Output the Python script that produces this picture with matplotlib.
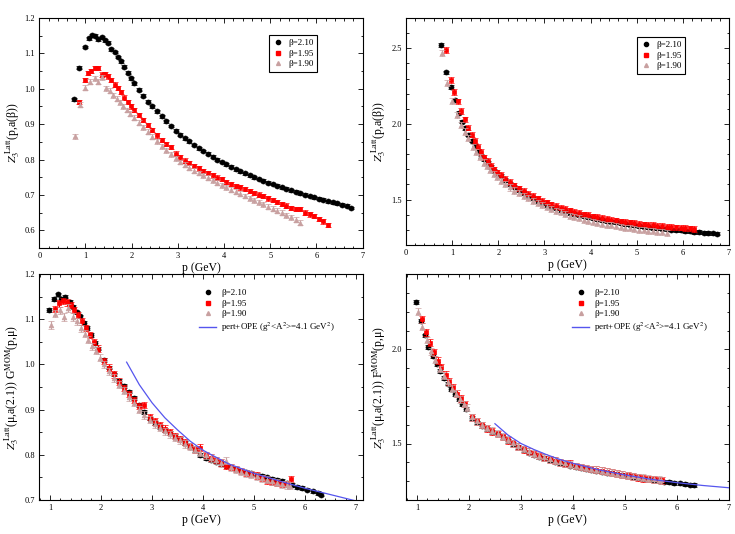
import matplotlib
matplotlib.use("Agg")
import matplotlib.pyplot as plt
from matplotlib.lines import Line2D
from matplotlib.ticker import MultipleLocator

plt.rcParams['font.family'] = ['Liberation Serif', 'DejaVu Serif']
plt.rcParams['mathtext.fontset'] = 'stix'

# ---------------- data ----------------
beta_labels = ["β=2.10", "β=1.95", "β=1.90"]
fit_label = r"pert+OPE (g$^2$<A$^2$>=4.1 GeV$^2$)"

# momenta (GeV) for the upper panels
p_top_210 = [0.75, 0.87, 0.98, 1.07, 1.14, 1.21, 1.28, 1.35, 1.42, 1.49, 1.56, 1.63, 1.70, 1.77, 1.84, 1.91, 1.98,
             2.05, 2.15, 2.25, 2.35, 2.45, 2.55, 2.65, 2.75, 2.85, 2.95, 3.05, 3.15, 3.25, 3.35, 3.45, 3.55,
             3.65, 3.75, 3.85, 3.95, 4.05, 4.15, 4.25, 4.35, 4.45, 4.55, 4.65, 4.75, 4.85, 4.95, 5.05, 5.15,
             5.25, 5.35, 5.45, 5.55, 5.65, 5.75, 5.85, 5.95, 6.05, 6.15, 6.25, 6.35, 6.45, 6.55, 6.65, 6.75]
p_top_195 = [0.87, 0.98, 1.05, 1.12, 1.20, 1.27, 1.35, 1.42, 1.49, 1.56, 1.63, 1.70, 1.77, 1.84, 1.91, 1.98,
             2.05, 2.15, 2.25, 2.35, 2.45, 2.55, 2.65, 2.75, 2.85, 2.95, 3.05, 3.15, 3.25, 3.35, 3.45, 3.55,
             3.65, 3.75, 3.85, 3.95, 4.05, 4.15, 4.25, 4.35, 4.45, 4.55, 4.65, 4.75, 4.85, 4.95, 5.05, 5.15,
             5.25, 5.35, 5.45, 5.55, 5.65, 5.75, 5.85, 5.95, 6.05, 6.15, 6.25]
p_top_190 = [0.78, 0.88, 1.00, 1.10, 1.20, 1.27, 1.35, 1.45, 1.52, 1.60, 1.68, 1.75, 1.82, 1.90, 1.97,
             2.05, 2.15, 2.25, 2.35, 2.45, 2.55, 2.65, 2.75, 2.85, 2.95, 3.05, 3.15, 3.25, 3.35, 3.45, 3.55,
             3.65, 3.75, 3.85, 3.95, 4.05, 4.15, 4.25, 4.35, 4.45, 4.55, 4.65, 4.75, 4.85, 4.95, 5.05, 5.15,
             5.25, 5.35, 5.45, 5.55, 5.65]

# Z3^Latt(p, a(beta))  (top-left)
z_tl_210 = [0.970, 1.060, 1.118, 1.143, 1.152, 1.150, 1.140, 1.146, 1.137, 1.130, 1.112, 1.104, 1.090, 1.078, 1.062, 1.045, 1.030,
            1.015, 0.997, 0.980, 0.964, 0.950, 0.936, 0.922, 0.908, 0.895, 0.882, 0.870, 0.860, 0.851, 0.841, 0.832, 0.824,
            0.816, 0.808, 0.800, 0.793, 0.786, 0.780, 0.773, 0.767, 0.761, 0.756, 0.750, 0.745, 0.740, 0.735, 0.731, 0.726,
            0.722, 0.717, 0.713, 0.709, 0.705, 0.701, 0.697, 0.693, 0.689, 0.686, 0.682, 0.679, 0.676, 0.672, 0.669, 0.663]
z_tl_195 = [0.962, 1.025, 1.045, 1.050, 1.058, 1.058, 1.040, 1.042, 1.035, 1.025, 1.012, 1.003, 0.990, 0.975, 0.962, 0.950,
            0.940, 0.926, 0.912, 0.898, 0.884, 0.868, 0.855, 0.843, 0.836, 0.817, 0.806, 0.797, 0.790, 0.782, 0.775, 0.768,
            0.762, 0.755, 0.749, 0.744, 0.736, 0.731, 0.726, 0.721, 0.716, 0.711, 0.706, 0.701, 0.696, 0.690, 0.685, 0.680,
            0.675, 0.670, 0.664, 0.660, 0.661, 0.650, 0.645, 0.640, 0.633, 0.625, 0.616]
z_tl_190 = [0.866, 0.955, 1.003, 1.020, 1.030, 1.020, 1.032, 1.002, 0.995, 0.982, 0.972, 0.962, 0.950, 0.940, 0.930,
            0.918, 0.904, 0.891, 0.878, 0.865, 0.852, 0.838, 0.826, 0.815, 0.803, 0.793, 0.785, 0.777, 0.769, 0.762, 0.755,
            0.748, 0.741, 0.734, 0.727, 0.721, 0.715, 0.709, 0.703, 0.697, 0.691, 0.685, 0.679, 0.673, 0.667, 0.661, 0.655,
            0.649, 0.643, 0.637, 0.630, 0.622]

# Z3^Latt(p, a(beta)) renormalised (top-right)
z_tr_210 = [2.52, 2.34, 2.245, 2.155, 2.075, 2.015, 1.975, 1.930, 1.890, 1.855, 1.820, 1.790, 1.765, 1.740, 1.715, 1.690, 1.670,
            1.655, 1.630, 1.605, 1.583, 1.562, 1.543, 1.525, 1.508, 1.492, 1.478, 1.466, 1.454, 1.443, 1.432, 1.422, 1.413,
            1.405, 1.398, 1.391, 1.385, 1.378, 1.372, 1.366, 1.360, 1.355, 1.350, 1.345, 1.340, 1.335, 1.330, 1.326, 1.322,
            1.318, 1.314, 1.311, 1.308, 1.305, 1.302, 1.299, 1.296, 1.293, 1.290, 1.287, 1.284, 1.282, 1.279, 1.277, 1.275]
z_tr_195 = [2.49, 2.29, 2.21, 2.15, 2.085, 2.03, 1.975, 1.930, 1.890, 1.850, 1.815, 1.780, 1.755, 1.725, 1.700, 1.680,
            1.662, 1.638, 1.615, 1.594, 1.575, 1.557, 1.540, 1.524, 1.508, 1.494, 1.482, 1.469, 1.458, 1.447, 1.437, 1.428,
            1.419, 1.411, 1.403, 1.400, 1.390, 1.384, 1.378, 1.372, 1.367, 1.362, 1.357, 1.353, 1.349, 1.345, 1.341, 1.337,
            1.334, 1.331, 1.328, 1.325, 1.322, 1.319, 1.317, 1.315, 1.312, 1.310, 1.307]
z_tr_190 = [2.47, 2.27, 2.15, 2.06, 1.99, 1.95, 1.905, 1.850, 1.815, 1.780, 1.745, 1.720, 1.695, 1.670, 1.650,
            1.625, 1.602, 1.580, 1.560, 1.541, 1.524, 1.508, 1.493, 1.479, 1.465, 1.451, 1.438, 1.426, 1.415, 1.404, 1.394,
            1.385, 1.376, 1.368, 1.361, 1.354, 1.347, 1.341, 1.335, 1.330, 1.325, 1.320, 1.315, 1.310, 1.306, 1.302, 1.298,
            1.294, 1.290, 1.287, 1.284, 1.281]

# momenta (GeV) for the lower panels
p_bot_210 = [0.98, 1.07, 1.15, 1.22, 1.30, 1.38, 1.45, 1.52, 1.59, 1.66, 1.73, 1.80, 1.87, 1.94,
             2.05, 2.15, 2.25, 2.35, 2.45, 2.55, 2.65, 2.75, 2.85, 2.95, 3.05, 3.15, 3.25, 3.35, 3.45, 3.55,
             3.65, 3.75, 3.85, 3.95, 4.05, 4.15, 4.25, 4.35, 4.45, 4.55, 4.65, 4.75, 4.85, 4.95, 5.05, 5.15,
             5.25, 5.35, 5.45, 5.55, 5.65, 5.75, 5.85, 5.95, 6.05, 6.15, 6.25, 6.32]
p_bot_195 = [1.10, 1.18, 1.25, 1.33, 1.40, 1.47, 1.55, 1.62, 1.70, 1.78, 1.85, 1.93,
             2.05, 2.15, 2.25, 2.35, 2.45, 2.55, 2.65, 2.75, 2.85, 2.95, 3.05, 3.15, 3.25, 3.35, 3.45, 3.55,
             3.65, 3.75, 3.85, 3.95, 4.05, 4.15, 4.25, 4.35, 4.45, 4.55, 4.65, 4.75, 4.85, 4.95, 5.05, 5.15,
             5.25, 5.35, 5.45, 5.55, 5.65, 5.72]
p_bot_190 = [1.02, 1.10, 1.20, 1.28, 1.35, 1.45, 1.52, 1.60, 1.68, 1.75, 1.83, 1.90, 1.97,
             2.05, 2.15, 2.25, 2.35, 2.45, 2.55, 2.65, 2.75, 2.85, 2.95, 3.05, 3.15, 3.25, 3.35, 3.45, 3.55,
             3.65, 3.75, 3.85, 3.95, 4.05, 4.15, 4.25, 4.35, 4.45, 4.55, 4.65, 4.75, 4.85, 4.95, 5.05, 5.15,
             5.25, 5.35, 5.45, 5.55, 5.65, 5.70]

# Z3 G^MOM (bottom-left)
g_bl_210 = [1.120, 1.145, 1.155, 1.145, 1.150, 1.138, 1.128, 1.115, 1.106, 1.092, 1.080, 1.065, 1.048, 1.035,
            1.010, 0.993, 0.978, 0.963, 0.952, 0.940, 0.925, 0.910, 0.895, 0.880, 0.870, 0.862, 0.855, 0.848, 0.842, 0.835,
            0.826, 0.818, 0.810, 0.800, 0.792, 0.789, 0.785, 0.780, 0.776, 0.772, 0.768, 0.765, 0.762, 0.759, 0.756, 0.753,
            0.750, 0.747, 0.745, 0.742, 0.737, 0.733, 0.729, 0.726, 0.723, 0.719, 0.715, 0.712]
g_bl_195 = [1.122, 1.135, 1.140, 1.137, 1.132, 1.120, 1.110, 1.095, 1.080, 1.065, 1.050, 1.035,
            1.008, 0.993, 0.978, 0.962, 0.948, 0.935, 0.921, 0.908, 0.910, 0.884, 0.874, 0.866, 0.858, 0.850, 0.842, 0.835,
            0.828, 0.820, 0.812, 0.816, 0.800, 0.794, 0.789, 0.783, 0.775, 0.773, 0.768, 0.764, 0.760, 0.757, 0.754, 0.748,
            0.743, 0.740, 0.737, 0.735, 0.736, 0.746]
g_bl_190 = [1.087, 1.112, 1.120, 1.105, 1.125, 1.105, 1.095, 1.080, 1.068, 1.055, 1.040, 1.030, 1.015,
            1.000, 0.985, 0.970, 0.955, 0.942, 0.928, 0.915, 0.900, 0.888, 0.878, 0.868, 0.860, 0.852, 0.845, 0.838, 0.832,
            0.824, 0.818, 0.811, 0.805, 0.799, 0.793, 0.788, 0.782, 0.787, 0.772, 0.767, 0.763, 0.759, 0.756, 0.752, 0.748,
            0.745, 0.741, 0.738, 0.735, 0.733, 0.732]

# Z3 F^MOM (bottom-right)
f_br_210 = [2.250, 2.150, 2.074, 2.014, 1.965, 1.924, 1.885, 1.848, 1.818, 1.790, 1.762, 1.735, 1.708, 1.683,
            1.635, 1.612, 1.593, 1.577, 1.563, 1.548, 1.532, 1.515, 1.497, 1.480, 1.465, 1.452, 1.440, 1.430, 1.421, 1.412,
            1.404, 1.396, 1.389, 1.383, 1.377, 1.371, 1.366, 1.361, 1.356, 1.351, 1.346, 1.341, 1.336, 1.331, 1.327, 1.322,
            1.318, 1.314, 1.310, 1.306, 1.302, 1.298, 1.295, 1.291, 1.288, 1.285, 1.282, 1.280]
f_br_195 = [2.160, 2.090, 2.035, 1.985, 1.940, 1.905, 1.865, 1.830, 1.800, 1.765, 1.740, 1.710,
            1.640, 1.618, 1.598, 1.580, 1.565, 1.550, 1.535, 1.518, 1.501, 1.484, 1.469, 1.456, 1.444, 1.434, 1.425, 1.416,
            1.408, 1.400, 1.393, 1.392, 1.381, 1.375, 1.370, 1.365, 1.360, 1.355, 1.350, 1.345, 1.340, 1.335, 1.331, 1.325,
            1.320, 1.316, 1.312, 1.309, 1.306, 1.304]
f_br_190 = [2.200, 2.120, 2.050, 1.990, 1.945, 1.895, 1.860, 1.825, 1.790, 1.765, 1.735, 1.710, 1.690,
            1.640, 1.617, 1.598, 1.582, 1.567, 1.552, 1.537, 1.520, 1.502, 1.486, 1.471, 1.458, 1.446, 1.435, 1.426, 1.417,
            1.409, 1.401, 1.394, 1.387, 1.381, 1.375, 1.370, 1.365, 1.360, 1.355, 1.350, 1.345, 1.340, 1.335, 1.330, 1.326,
            1.322, 1.318, 1.314, 1.310, 1.307, 1.305]

# pert+OPE curves
p_fit = [2.5, 2.75, 3.0, 3.25, 3.5, 3.75, 4.0, 4.5, 5.0, 5.5, 6.0, 6.5, 7.0, 7.2]
g_fit = [1.005, 0.955, 0.915, 0.882, 0.855, 0.830, 0.810, 0.780, 0.759, 0.742, 0.726, 0.712, 0.698, 0.693]
f_fit = [1.605, 1.545, 1.500, 1.468, 1.440, 1.415, 1.395, 1.360, 1.333, 1.310, 1.292, 1.277, 1.265, 1.261]

# typical error bar sizes
err_tl = [0.004, 0.006, 0.007]
err_tr = [0.012, 0.018, 0.020]
err_bl = [0.004, 0.007, 0.008]
err_br = [0.010, 0.018, 0.018]

# ---------------- style ----------------
colors = ["#000000", "#ff0000", "#c8a0a0"]
markers = ["o", "s", "^"]
msizes = [3.6, 3.0, 3.4]

fig = plt.figure(figsize=(7.35, 5.34), dpi=100)
ax_tl = fig.add_axes([39.3 / 735, 1 - 248 / 534, 323.4 / 735, 230 / 534])
ax_tr = fig.add_axes([406 / 735, 1 - 245 / 534, 323 / 735, 227 / 534])
ax_bl = fig.add_axes([39 / 735, 1 - 500 / 534, 324 / 735, 226 / 534])
ax_br = fig.add_axes([406 / 735, 1 - 500 / 534, 323 / 735, 226 / 534])


def draw(ax, ps, ys, errs):
    order = [0, 2, 1]
    for i in order:
        ax.errorbar(ps[i], ys[i], yerr=errs[i], fmt=markers[i], color=colors[i], ms=msizes[i],
                    mec=colors[i], mew=0.5, elinewidth=0.8, capsize=2.0, capthick=0.8, zorder=3 + i)


def style(ax, xlim, ylim, ymaj, ymin):
    ax.set_xlim(*xlim)
    ax.set_ylim(*ylim)
    ax.xaxis.set_major_locator(MultipleLocator(1))
    ax.xaxis.set_minor_locator(MultipleLocator(0.2))
    ax.yaxis.set_major_locator(MultipleLocator(ymaj))
    ax.yaxis.set_minor_locator(MultipleLocator(ymin))
    ax.tick_params(which='both', direction='in', top=True, right=True, labelsize=6, pad=3)
    ax.tick_params(which='major', length=3.5, width=0.6)
    ax.tick_params(which='minor', length=1.8, width=0.6)
    for s in ax.spines.values():
        s.set_linewidth(0.8)
    ax.set_xlabel("p (GeV)", fontsize=8.5, labelpad=1)


def handles(with_fit=False):
    h = [Line2D([], [], ls='none', marker=markers[i], color=colors[i], ms=msizes[i] - 0.6) for i in range(3)]
    if with_fit:
        h.append(Line2D([], [], color='#5555ee', lw=1.0))
    return h


draw(ax_tl, [p_top_210, p_top_195, p_top_190], [z_tl_210, z_tl_195, z_tl_190], err_tl)
style(ax_tl, (0, 7), (0.55, 1.2), 0.1, 0.05)
ax_tl.set_ylabel(r"$Z_3^{\ \mathrm{Latt}}$(p,a(β))", fontsize=8.5, labelpad=2)
ax_tl.legend(handles(), beta_labels, loc='upper left', bbox_to_anchor=(0.695, 0.945), fontsize=6.5,
             frameon=True, fancybox=False, edgecolor='black', framealpha=1, handlelength=1.2,
             handletextpad=0.6, borderpad=0.4, labelspacing=0.25).get_frame().set_linewidth(0.8)

draw(ax_tr, [p_top_210, p_top_195, p_top_190], [z_tr_210, z_tr_195, z_tr_190], err_tr)
style(ax_tr, (0, 7), (1.2, 2.7), 0.5, 0.1)
ax_tr.set_ylabel(r"$Z_3^{\ \mathrm{Latt}}$(p,a(β))", fontsize=8.5, labelpad=2)
ax_tr.legend(handles(), beta_labels, loc='upper left', bbox_to_anchor=(0.70, 0.935), fontsize=6.5,
             frameon=True, fancybox=False, edgecolor='black', framealpha=1, handlelength=1.2,
             handletextpad=0.6, borderpad=0.4, labelspacing=0.25).get_frame().set_linewidth(0.8)

draw(ax_bl, [p_bot_210, p_bot_195, p_bot_190], [g_bl_210, g_bl_195, g_bl_190], err_bl)
ax_bl.plot(p_fit, g_fit, color='#5555ee', lw=0.9, zorder=10)
style(ax_bl, (0.78, 7.14), (0.7, 1.2), 0.1, 0.05)
ax_bl.set_ylabel(r"$Z_3^{\ \mathrm{Latt}}$(μ,a(2.1)) G$^{\mathrm{MOM}}$(p,μ)", fontsize=8.5, labelpad=2)
ax_bl.legend(handles(True), beta_labels + [fit_label], loc='upper left', bbox_to_anchor=(0.47, 0.97),
             fontsize=6.5, frameon=False, handlelength=1.8, handletextpad=0.6, labelspacing=0.25)

draw(ax_br, [p_bot_210, p_bot_195, p_bot_190], [f_br_210, f_br_195, f_br_190], err_br)
ax_br.plot(p_fit, f_fit, color='#5555ee', lw=0.9, zorder=10)
style(ax_br, (0.79, 7.0), (1.2, 2.4), 0.5, 0.1)
ax_br.set_ylabel(r"$Z_3^{\ \mathrm{Latt}}$(μ,a(2.1)) F$^{\mathrm{MOM}}$(p,μ)", fontsize=8.5, labelpad=2)
ax_br.legend(handles(True), beta_labels + [fit_label], loc='upper left', bbox_to_anchor=(0.49, 0.97),
             fontsize=6.5, frameon=False, handlelength=1.8, handletextpad=0.6, labelspacing=0.25)

fig.savefig("out.png", dpi=100)
